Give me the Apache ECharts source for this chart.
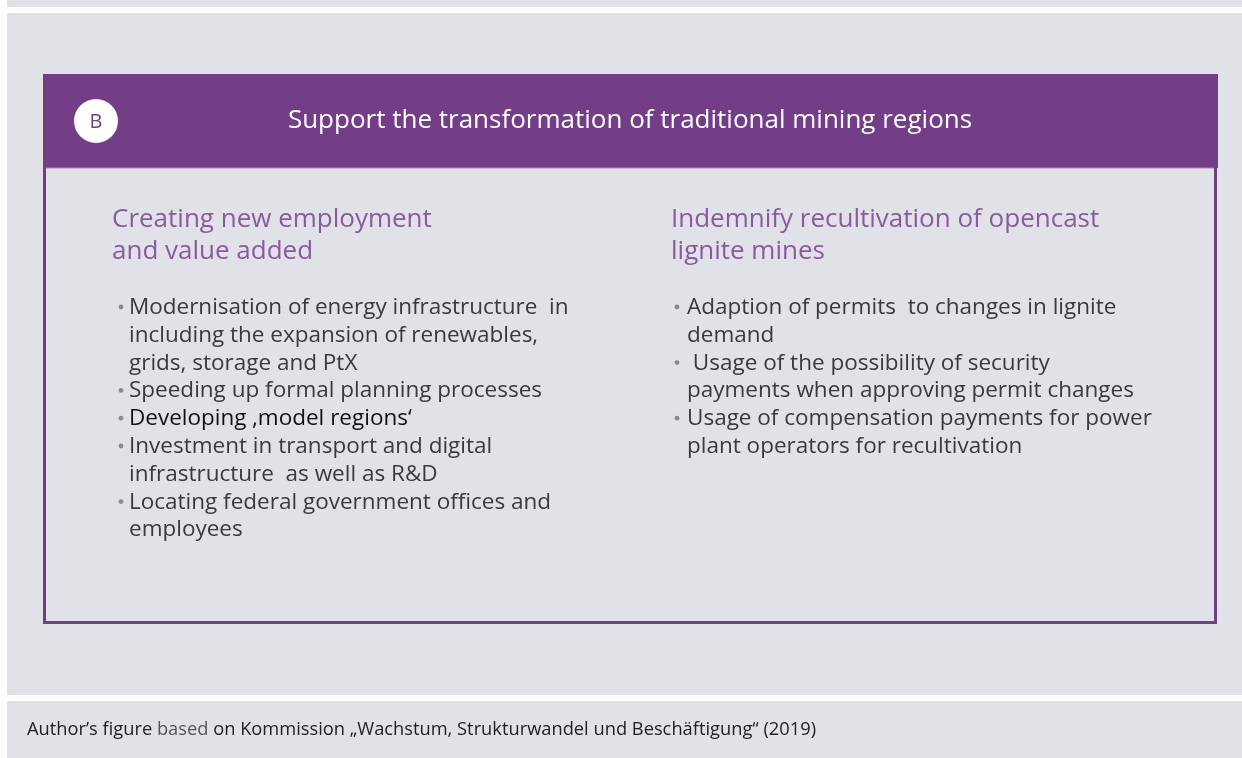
<!DOCTYPE html>
<html>
<head>
<meta charset="utf-8">
<script src="https://cdn.jsdelivr.net/npm/echarts@6/dist/echarts.min.js"></script>
<style>
  html, body { margin: 0; padding: 0; background: #fff; }
  #chart { width: 1242px; height: 758px; }
</style>
</head>
<body>
<div id="chart"></div>
<script>
const badgeLabel = 'B'
const headerTitle = 'Support the transformation of traditional mining regions'
const leftHeading = ['Creating new employment', 'and value added']
const leftBullets = [
  ['Modernisation of energy infrastructure  in', 'including the expansion of renewables,', 'grids, storage and PtX'],
  ['Speeding up formal planning processes'],
  ['Developing \u201amodel regions\u2018'],
  ['Investment in transport and digital', 'infrastructure  as well as R&D'],
  ['Locating federal government offices and', 'employees'],
]
const rightHeading = ['Indemnify recultivation of opencast', 'lignite mines']
const rightBullets = [
  ['Adaption of permits  to changes in lignite', 'demand'],
  [' Usage of the possibility of security', 'payments when approving permit changes'],
  ['Usage of compensation payments for power', 'plant operators for recultivation'],
]
// the one bullet that is set darker in the source
const emphasised = 'Developing \u201amodel regions\u2018'
const sourceNote = ['Author\u2019s figure ', 'based', ' on Kommission \u201eWachstum, Strukturwandel und Besch\u00e4ftigung\u201c (2019)']

const PURPLE = '#733e87'
const HEAD_PURPLE = '#8a5a9f'
const PANEL = '#e1e2e7'
const FONT = '"Open Sans", "Noto Sans", sans-serif'

function headingItems(lines, x) {
  return lines.map((t, i) => ({
    type: 'text',
    x,
    y: 220 + i * 32,
    style: { text: t, fill: HEAD_PURPLE, font: '26px ' + FONT, textVerticalAlign: 'middle' },
  }))
}

function bulletItems(bullets, dotX, textX) {
  const out = []
  let row = 0
  bullets.forEach((lines) => {
    const yDot = 306 + row * 27.8
    out.push({ type: 'circle', shape: { cx: dotX, cy: yDot + 1, r: 2.4 }, style: { fill: '#8a8a8a' } })
    lines.forEach((t) => {
      const strong = lines[0] === emphasised
      out.push({
        type: 'text',
        x: textX,
        y: 307.5 + row * 27.8,
        style: {
          text: t,
          fill: strong ? '#111' : '#3a3a3a',
          font: '22.5px ' + FONT,
          textVerticalAlign: 'middle',
        },
      })
      row++
    })
  })
  return out
}

const graphic = [
  // background panels
  { type: 'rect', shape: { x: 7, y: 0, width: 1235, height: 7 }, style: { fill: PANEL } },
  { type: 'rect', shape: { x: 7, y: 13, width: 1235, height: 682 }, style: { fill: PANEL } },
  { type: 'rect', shape: { x: 7, y: 701, width: 1235, height: 57 }, style: { fill: PANEL } },
  // box body
  { type: 'rect', shape: { x: 44.5, y: 166, width: 1171, height: 456.5 }, style: { fill: 'none', stroke: PURPLE, lineWidth: 3 } },
  // header band
  { type: 'rect', shape: { x: 43, y: 74, width: 1175, height: 94 }, style: { fill: PURPLE } },
  { type: 'line', shape: { x1: 46, y1: 168, x2: 1214, y2: 168 }, style: { stroke: '#a886b5', lineWidth: 1 } },
  { type: 'circle', shape: { cx: 96, cy: 121, r: 22 }, style: { fill: '#fff' } },
  {
    type: 'text', x: 96, y: 122,
    style: { text: badgeLabel, fill: PURPLE, font: '20px ' + FONT, textAlign: 'center', textVerticalAlign: 'middle' },
  },
  {
    type: 'text', x: 630, y: 121,
    style: { text: headerTitle, fill: '#fff', font: '26px ' + FONT, textAlign: 'center', textVerticalAlign: 'middle' },
  },
  ...headingItems(leftHeading, 112),
  ...headingItems(rightHeading, 671),
  ...bulletItems(leftBullets, 121, 129),
  ...bulletItems(rightBullets, 677, 687),
  {
    type: 'text', x: 27, y: 730,
    style: {
      text: '{a|' + sourceNote[0] + '}{b|' + sourceNote[1] + '}{a|' + sourceNote[2] + '}',
      font: '18.3px ' + FONT,
      textVerticalAlign: 'middle',
      rich: {
        a: { fill: '#222', font: '18.3px ' + FONT },
        b: { fill: '#555', font: '18.3px ' + FONT },
      },
    },
  },
]

const chart = echarts.init(document.getElementById('chart'), null, { renderer: 'canvas' })
chart.setOption({
  backgroundColor: '#fff',
  animation: false,
  graphic,
})
</script>
</body>
</html>
